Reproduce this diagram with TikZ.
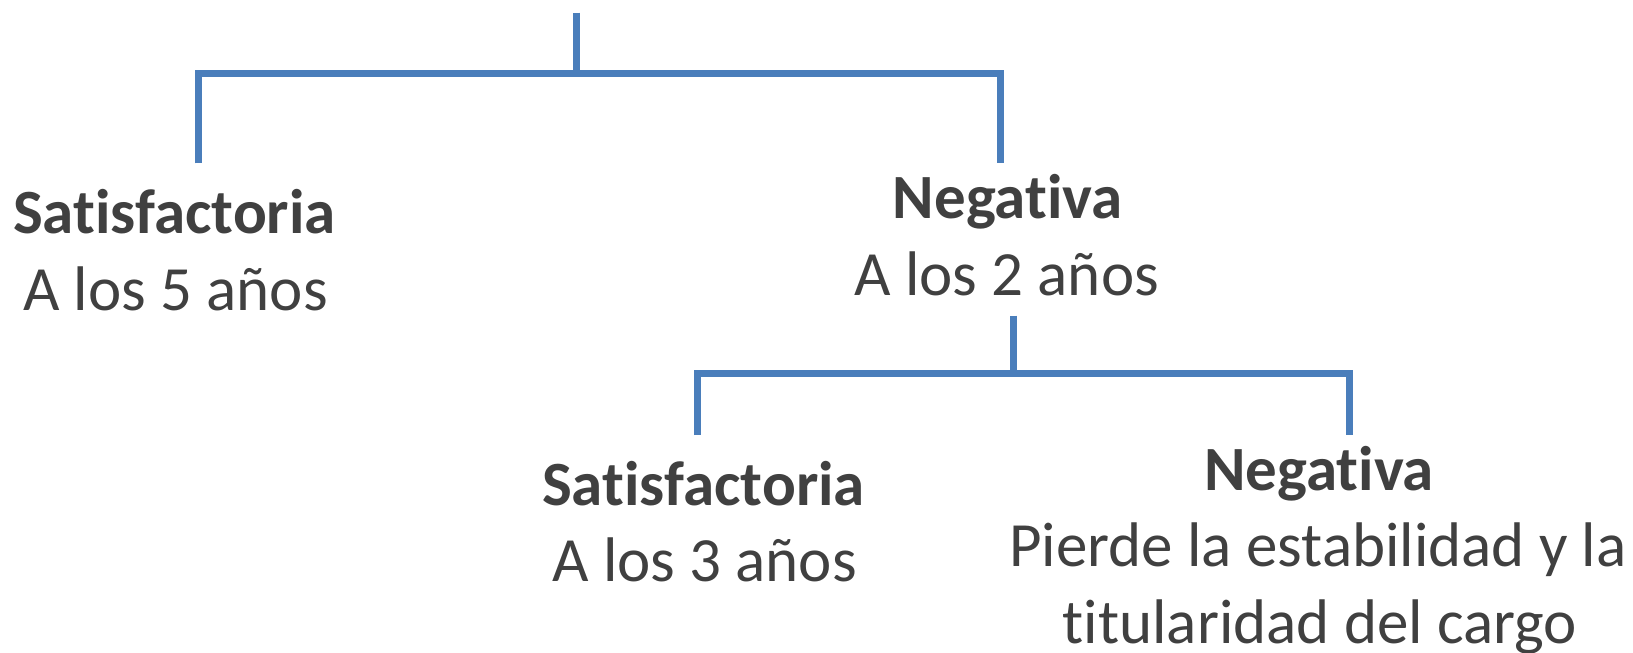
\documentclass[tikz,border=0pt]{standalone}
\usepackage{fontspec}
\setmainfont[Ligatures={NoCommon}]{Carlito}
\definecolor{linkblue}{HTML}{4A7EBB}
\definecolor{txtgray}{HTML}{404040}
\begin{document}
\begin{tikzpicture}[x=1pt,y=-1pt,
  link/.style={draw=linkblue,line width=7pt},
  lbl/.style={inner sep=0pt,anchor=base,text=txtgray,font=\fontsize{63}{76}\selectfont},
  hd/.style={lbl,font=\fontsize{63}{76}\selectfont\bfseries}]
\useasboundingbox (0,0) rectangle (1633,653);
% labels
\node[hd]  (s1)  at (174.5,233.3) {Satisfactoria};
\node[lbl] (s1t) at (175.5,310)   {A los 5 años};
\node[hd]  (n1)  at (1007.7,218.3) {Negativa};
\node[lbl] (n1t) at (1006.7,295)  {A los 2 años};
\node[hd]  (s2)  at (703.5,505)   {Satisfactoria};
\node[lbl] (s2t) at (704.6,581.7) {A los 3 años};
\node[hd]  (n2)  at (1319,490.7)  {Negativa};
\node[lbl] (n2a) at (1318,566.7)  {Pierde la estabilidad y la};
\node[lbl] (n2b) at (1320,643)    {titularidad del cargo};
% connector points
\coordinate (root) at (576,12.7);
\coordinate (j1)   at (576,73.5);
\coordinate (e1l)  at (198,163.3);
\coordinate (e1r)  at (1000,163.3);
\coordinate (r2)   at (1013,315.6);
\coordinate (j2)   at (1013,373);
\coordinate (e2l)  at (697,435);
\coordinate (e2r)  at (1349,435);
% connectors
\draw[link] (root) -- (j1);
\draw[link] (e1l) |- (j1) -| (e1r);
\draw[link] (r2) -- (j2);
\draw[link] (e2l) |- (j2) -| (e2r);
\end{tikzpicture}
\end{document}
